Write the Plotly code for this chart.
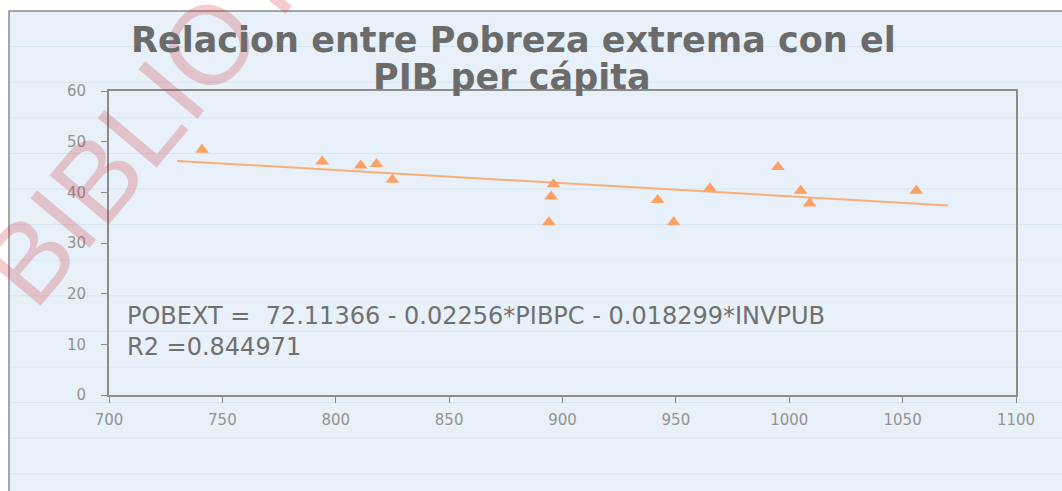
import plotly.graph_objects as go

# ---- data ----
pib_pc = [741, 794, 811, 818, 825, 896, 895, 894, 942, 949, 965, 995, 1005, 1009, 1056]
pobreza_ext = [48.4, 46.1, 45.3, 45.6, 42.5, 41.6, 39.2, 34.1, 38.5, 34.1, 40.8, 45.0, 40.3, 37.8, 40.3]
trend_x = [730, 1070]
trend_y = [46.2, 37.4]
x_ticks = [700, 750, 800, 850, 900, 950, 1000, 1050, 1100]
y_ticks = [0, 10, 20, 30, 40, 50, 60]

title_lines = ["Relacion entre Pobreza extrema con el", "PIB per cápita"]
equation = "POBEXT =  72.11366 - 0.02256*PIBPC - 0.018299*INVPUB<br>R2 =0.844971"

W, H = 1062, 491
L, R, T, B = 109, 46, 91, 96
PW, PH = W - L - R, H - T - B

def px_x(p):
    return (p - L) / PW

def px_y(p):
    return (H - B - p) / PH

BG = "#e8f1fa"
AX = "#8c8c8c"

fig = go.Figure()
fig.add_trace(go.Scatter(x=trend_x, y=trend_y, mode="lines",
                         line=dict(color="#f8ae78", width=2), hoverinfo="skip"))
fig.add_trace(go.Scatter(x=pib_pc, y=pobreza_ext, mode="markers",
                         marker=dict(symbol="triangle-up", size=12, color="#fca064")))

shapes = []
# page background with grey frame at top/left
shapes.append(dict(type="rect", xref="paper", yref="paper",
                   x0=px_x(9), x1=px_x(1080), y0=px_y(510), y1=px_y(11),
                   fillcolor=BG, line=dict(color="#8a8a8a", width=1.5), layer="below"))
# faint ruled lines
yy = 11 + 35.6
while yy < H:
    shapes.append(dict(type="line", xref="paper", yref="paper",
                       x0=px_x(10), x1=px_x(W), y0=px_y(yy), y1=px_y(yy),
                       line=dict(color="#d6e5f2", width=1), layer="below"))
    yy += 35.6

annotations = [
    dict(text="BIBLIOTECA", xref="paper", yref="paper", x=px_x(217), y=px_y(35),
         xanchor="center", yanchor="middle", textangle=-50, showarrow=False,
         font=dict(family="Liberation Sans", size=112, color="rgba(205,50,60,0.25)")),
    dict(text=title_lines[0], xref="paper", yref="paper", x=px_x(513), y=px_y(40),
         xanchor="center", yanchor="middle", showarrow=False,
         font=dict(family="DejaVu Sans", size=35, color="#6b6b6b", weight="bold")),
    dict(text=title_lines[1], xref="paper", yref="paper", x=px_x(512), y=px_y(77),
         xanchor="center", yanchor="middle", showarrow=False,
         font=dict(family="DejaVu Sans", size=35, color="#6b6b6b", weight="bold")),
    dict(text=equation, xref="paper", yref="paper", x=px_x(125), y=px_y(331),
         xanchor="left", yanchor="middle", align="left", showarrow=False,
         font=dict(family="DejaVu Sans", size=24, color="#707070")),
]

fig.update_layout(
    width=W, height=H,
    margin=dict(l=L, r=R, t=T, b=B),
    paper_bgcolor="white", plot_bgcolor="rgba(0,0,0,0)",
    showlegend=False,
    shapes=shapes, annotations=annotations,
    font=dict(family="DejaVu Sans", color=AX),
)
fig.update_xaxes(range=[700, 1100], tickvals=x_ticks, showgrid=False, zeroline=False,
                 showline=True, linecolor=AX, linewidth=1.5, mirror=True,
                 ticks="outside", ticklen=6, tickcolor=AX,
                 tickfont=dict(size=15, color="#939393"), ticklabelstandoff=4)
fig.update_yaxes(range=[0, 60], tickvals=y_ticks, showgrid=False, zeroline=False,
                 showline=True, linecolor=AX, linewidth=2, mirror=True,
                 ticks="outside", ticklen=6, tickcolor=AX,
                 tickfont=dict(size=15, color="#939393"), ticklabelstandoff=12)

fig.write_html("out.html", config={"displayModeBar": False},
               post_script="document.body.style.margin='0';document.body.style.padding='0';")
